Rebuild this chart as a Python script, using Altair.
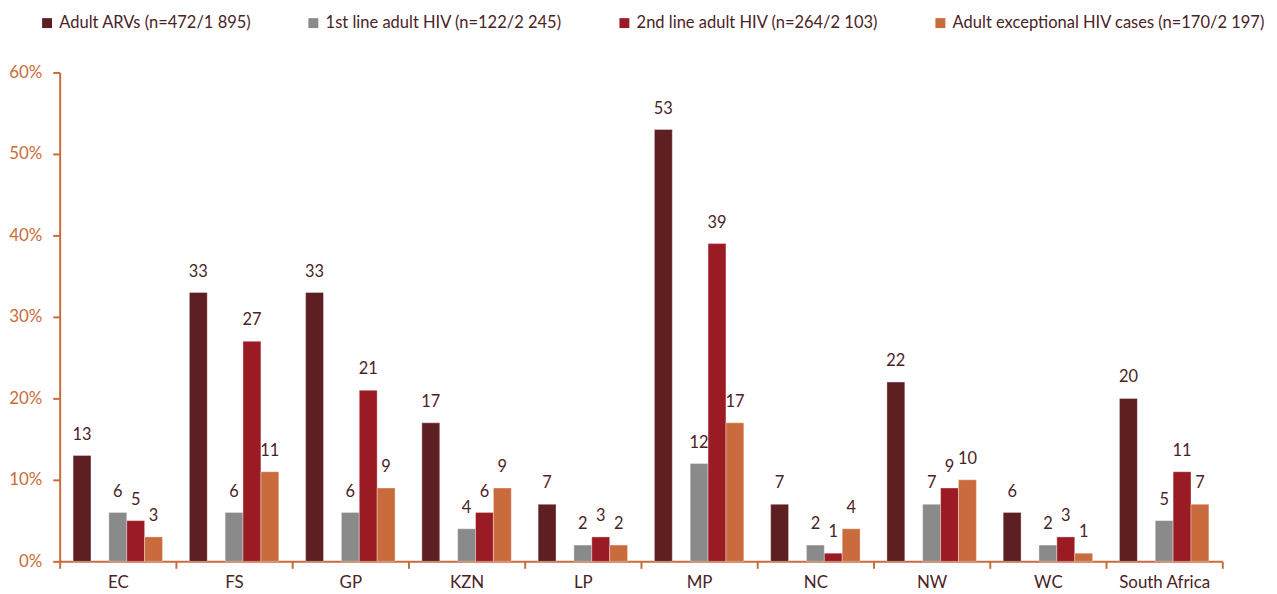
import altair as alt
import pandas as pd

regions = ["EC", "FS", "GP", "KZN", "LP", "MP", "NC", "NW", "WC", "South Africa"]
series = [
    "Adult ARVs (n=472/1 895)",
    "1st line adult HIV (n=122/2 245)",
    "2nd line adult HIV (n=264/2 103)",
    "Adult exceptional HIV cases (n=170/2 197)",
]
colors = ["#5E1F22", "#8A8A8A", "#9B1B24", "#C96B3C"]

adult_arvs = [13, 33, 33, 17, 7, 53, 7, 22, 6, 20]
first_line = [6, 6, 6, 4, 2, 12, 2, 7, 2, 5]
second_line = [5, 27, 21, 6, 3, 39, 1, 9, 3, 11]
exceptional = [3, 11, 9, 9, 2, 17, 4, 10, 1, 7]

y_ticks = [0, 10, 20, 30, 40, 50, 60]

rows = []
for vals, s in zip([adult_arvs, first_line, second_line, exceptional], series):
    for r, v in zip(regions, vals):
        rows.append({"region": r, "series": s, "value": v})
df = pd.DataFrame(rows)

offset_domain = [series[0], "gap", series[1], series[2], series[3]]

FONT = "Lato"
AX = "#C96B3C"
TXT = "#4A2326"

base = alt.Chart(df).encode(
    x=alt.X("region:N", sort=regions, title=None,
            scale=alt.Scale(paddingInner=0, paddingOuter=0),
            axis=alt.Axis(labelAngle=0, tickBand="extent", domainColor=AX, tickColor=AX,
                          domainWidth=2, tickWidth=2, tickSize=7, labelColor=TXT,
                          labelFont=FONT, labelFontSize=17, labelPadding=6)),
    xOffset=alt.XOffset("series:N",
                        scale=alt.Scale(domain=offset_domain, paddingInner=0, paddingOuter=0.75)),
)

bars = base.mark_bar(stroke="white", strokeWidth=0.6, strokeOpacity=0.6).encode(
    y=alt.Y("value:Q", title=None,
            scale=alt.Scale(domain=[0, 60], nice=False),
            axis=alt.Axis(values=y_ticks, labelExpr="datum.value + '%'", grid=False,
                          domainColor=AX, tickColor=AX, domainWidth=2, tickWidth=2, tickSize=7,
                          labelColor=AX, labelFont=FONT, labelFontSize=17, labelPadding=11)),
    color=alt.Color("series:N",
                    scale=alt.Scale(domain=series, range=colors),
                    sort=series,
                    legend=alt.Legend(title=None, orient="none", direction="horizontal",
                                      columns=4, legendX=-21, legendY=-58,
                                      symbolType="square", symbolSize=100, symbolStrokeWidth=0,
                                      symbolOpacity=1,
                                      labelFont=FONT, labelFontSize=16.6, labelColor=TXT,
                                      labelOffset=4, columnPadding=54, labelLimit=400)),
)

labels = base.mark_text(dy=-21, font=FONT, fontSize=16.5, color=TXT).encode(
    y=alt.Y("value:Q"),
    text=alt.Text("value:Q"),
)

chart = alt.layer(bars, labels).properties(
    width=1170, height=492,
    autosize=alt.AutoSizeParams(type="none"),
    padding={"left": 52, "top": 63, "right": 47, "bottom": 31},
).configure_view(stroke=None)

chart.save("out.html", embed_options={"renderer": "svg", "actions": False})
